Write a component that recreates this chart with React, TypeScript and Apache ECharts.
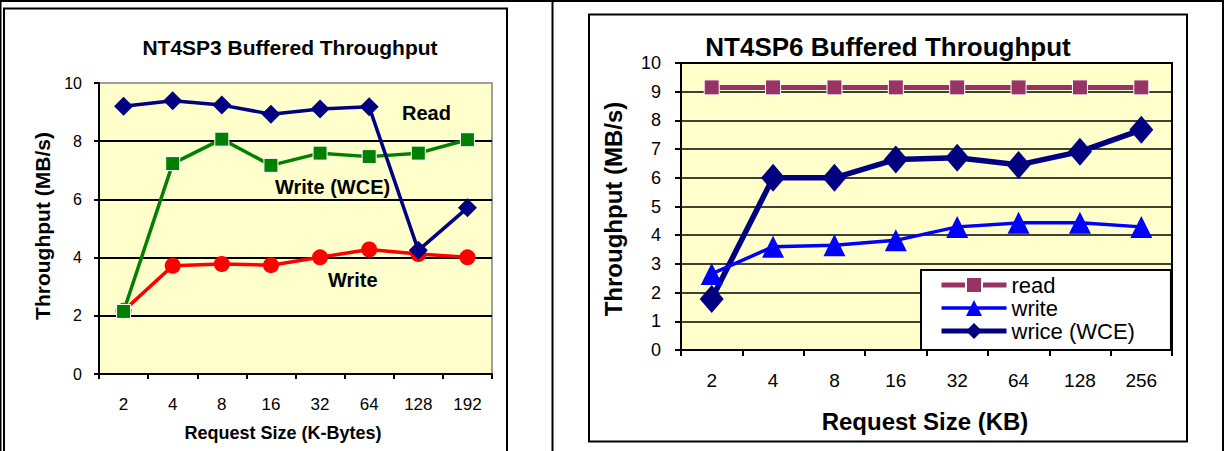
import React, { useEffect, useRef } from 'react';
import * as echarts from 'echarts';

const FONT = '"Liberation Sans", Arial, sans-serif';

// Left chart: NT4SP3
const leftCategories = ['2', '4', '8', '16', '32', '64', '128', '192'];
const leftRead = [9.2, 9.39, 9.24, 8.93, 9.11, 9.18, 4.25, 5.71];
const leftWriteWCE = [2.15, 7.23, 8.07, 7.17, 7.59, 7.47, 7.59, 8.05];
const leftWrite = [2.17, 3.72, 3.78, 3.74, 4.01, 4.28, 4.12, 4.01];

// Right chart: NT4SP6
const rightCategories = ['2', '4', '8', '16', '32', '64', '128', '256'];
const rightRead = [9.15, 9.15, 9.15, 9.15, 9.15, 9.15, 9.15, 9.15];
const rightWrite = [2.65, 3.6, 3.65, 3.82, 4.29, 4.43, 4.43, 4.29];
const rightWrice = [1.78, 6.0, 6.0, 6.64, 6.7, 6.45, 6.91, 7.67];

const leftTitle = 'NT4SP3 Buffered Throughput';
const rightTitle = 'NT4SP6 Buffered Throughput';
const yName = 'Throughput (MB/s)';
const leftXName = 'Request Size (K-Bytes)';
const rightXName = 'Request Size (KB)';
const legendNames = ['read', 'write', 'wrice (WCE)'];

function txt(text: string, x: number, y: number, size: number, opts: any = {}) {
  return {
    type: 'text',
    x,
    y,
    z: 100,
    rotation: opts.rotation || 0,
    style: {
      text,
      fill: '#000',
      fontSize: size,
      fontWeight: opts.weight || 'bold',
      fontFamily: FONT,
      align: opts.align || 'center',
      verticalAlign: 'middle',
    },
  };
}

function frameRect(x: number, y: number, w: number, h: number) {
  return { type: 'rect', z: 100, shape: { x, y, width: w, height: h }, style: { fill: '#000' } };
}

const baseCatAxis = (gridIndex: number, data: string[], size: number, margin: number, tickLen: number) => ({
  type: 'category',
  gridIndex,
  data,
  boundaryGap: true,
  axisLine: { show: true, lineStyle: { color: '#000', width: 2 } },
  axisTick: { show: true, length: tickLen, lineStyle: { color: '#000', width: 2 } },
  axisLabel: { interval: 0, color: '#000', fontSize: size, fontFamily: FONT, margin },
  splitLine: { show: false },
});

const legendWidths = [5, 3.5, 5];

const option: any = {
  animation: false,
  backgroundColor: '#ffffff',
  textStyle: { fontFamily: FONT },
  grid: [
    {
      left: 99, top: 83, width: 393, height: 291, show: true,
      backgroundColor: '#ffffcc', borderColor: '#808080', borderWidth: 1.5,
      containLabel: false, outerBoundsMode: 'none',
    },
    {
      left: 681, top: 63, width: 491, height: 287, show: true,
      backgroundColor: '#ffffcc', borderColor: '#000000', borderWidth: 2,
      containLabel: false, outerBoundsMode: 'none',
    },
  ],
  xAxis: [
    baseCatAxis(0, leftCategories, 17, 22, 5),
    baseCatAxis(1, rightCategories, 19, 21, 6),
  ],
  yAxis: [
    {
      type: 'value', gridIndex: 0, min: 0, max: 10, interval: 2,
      axisLine: { show: true, lineStyle: { color: '#000', width: 2 } },
      axisTick: { show: true, length: 5, lineStyle: { color: '#000', width: 2 } },
      axisLabel: { color: '#000', fontSize: 16, fontFamily: FONT, margin: 17 },
      splitLine: { show: true, showMinLine: false, showMaxLine: false, lineStyle: { color: '#000', width: 2 } },
    },
    {
      type: 'value', gridIndex: 1, min: 0, max: 10, interval: 1,
      axisLine: { show: true, lineStyle: { color: '#000', width: 2 } },
      axisTick: { show: true, length: 6, lineStyle: { color: '#000', width: 2 } },
      axisLabel: { color: '#000', fontSize: 18, fontFamily: FONT, margin: 20 },
      splitLine: { show: true, showMinLine: false, showMaxLine: false, lineStyle: { color: '#000', width: 1.5 } },
    },
  ],
  legend: {
    data: legendNames.map((name, i) => ({ name, lineStyle: { width: legendWidths[i] } })),
    orient: 'vertical',
    left: 921,
    top: 270,
    padding: [4, 36, 8, 18],
    itemWidth: 65,
    itemHeight: 20,
    itemGap: 1,
    backgroundColor: '#ffffff',
    borderColor: '#000000',
    borderWidth: 2,
    borderRadius: 0,
    selectedMode: false,
    textStyle: { color: '#000', fontSize: 22, lineHeight: 22, fontFamily: FONT },
    z: 20,
  },
  series: [
    {
      name: 'Write', type: 'line', xAxisIndex: 0, yAxisIndex: 0, data: leftWrite,
      symbol: 'circle', symbolSize: 16,
      lineStyle: { color: '#ff0000', width: 3.5 }, itemStyle: { color: '#ff0000' },
    },
    {
      name: 'Write (WCE)', type: 'line', xAxisIndex: 0, yAxisIndex: 0, data: leftWriteWCE,
      symbol: 'rect', symbolSize: 14,
      lineStyle: { color: '#008000', width: 3.5 },
      itemStyle: { color: '#008000', borderColor: '#ffffff', borderWidth: 1 },
    },
    {
      name: 'Read', type: 'line', xAxisIndex: 0, yAxisIndex: 0, data: leftRead,
      symbol: 'diamond', symbolSize: 19,
      lineStyle: { color: '#000080', width: 3.5 }, itemStyle: { color: '#000080' },
    },
    {
      name: 'wrice (WCE)', type: 'line', xAxisIndex: 1, yAxisIndex: 1, data: rightWrice,
      symbol: 'diamond', symbolSize: [24, 28],
      lineStyle: { color: '#000080', width: 5.5 }, itemStyle: { color: '#000080' },
    },
    {
      name: 'write', type: 'line', xAxisIndex: 1, yAxisIndex: 1, data: rightWrite,
      symbol: 'triangle', symbolSize: [22, 22],
      lineStyle: { color: '#0000ff', width: 3.5 }, itemStyle: { color: '#0000ff' },
    },
    {
      name: 'read', type: 'line', xAxisIndex: 1, yAxisIndex: 1, data: rightRead,
      symbol: 'rect', symbolSize: 15,
      lineStyle: { color: '#993366', width: 5 },
      itemStyle: { color: '#993366', borderColor: '#ffffff', borderWidth: 1 },
    },
  ],
  graphic: [
    // outer frame and divider
    frameRect(0, 0, 1224, 2),
    frameRect(0, 0, 1.5, 451),
    frameRect(1222, 0, 2, 451),
    frameRect(551.5, 0, 2, 451),
    // inner chart boxes
    {
      type: 'rect', z: 100, shape: { x: 4, y: 8.5, width: 503, height: 470 },
      style: { fill: 'none', stroke: '#000', lineWidth: 2 },
    },
    {
      type: 'rect', z: 100, shape: { x: 589, y: 14.5, width: 598, height: 427 },
      style: { fill: 'none', stroke: '#000', lineWidth: 2 },
    },
    // titles
    txt(leftTitle, 290, 47, 21),
    txt(rightTitle, 888, 47, 26),
    // axis names
    txt(yName, 42, 226, 21, { rotation: Math.PI / 2 }),
    txt(leftXName, 283, 433, 18),
    txt(yName, 613, 209, 24, { rotation: Math.PI / 2 }),
    txt(rightXName, 925, 421, 24),
    // in-plot labels (left chart)
    txt('Read', 402, 113, 20, { align: 'left' }),
    txt('Write (WCE)', 275, 187, 20, { align: 'left' }),
    txt('Write', 328, 280, 20, { align: 'left' }),
  ],
};

export default function App() {
  const ref = useRef<HTMLDivElement>(null);
  useEffect(() => {
    const chart = echarts.init(ref.current!, null, { renderer: 'svg' });
    chart.setOption(option);
    return () => chart.dispose();
  }, []);
  return (
    <div
      ref={ref}
      style={{ position: 'fixed', left: 0, top: 0, width: 1224, height: 451, background: '#fff' }}
    />
  );
}
